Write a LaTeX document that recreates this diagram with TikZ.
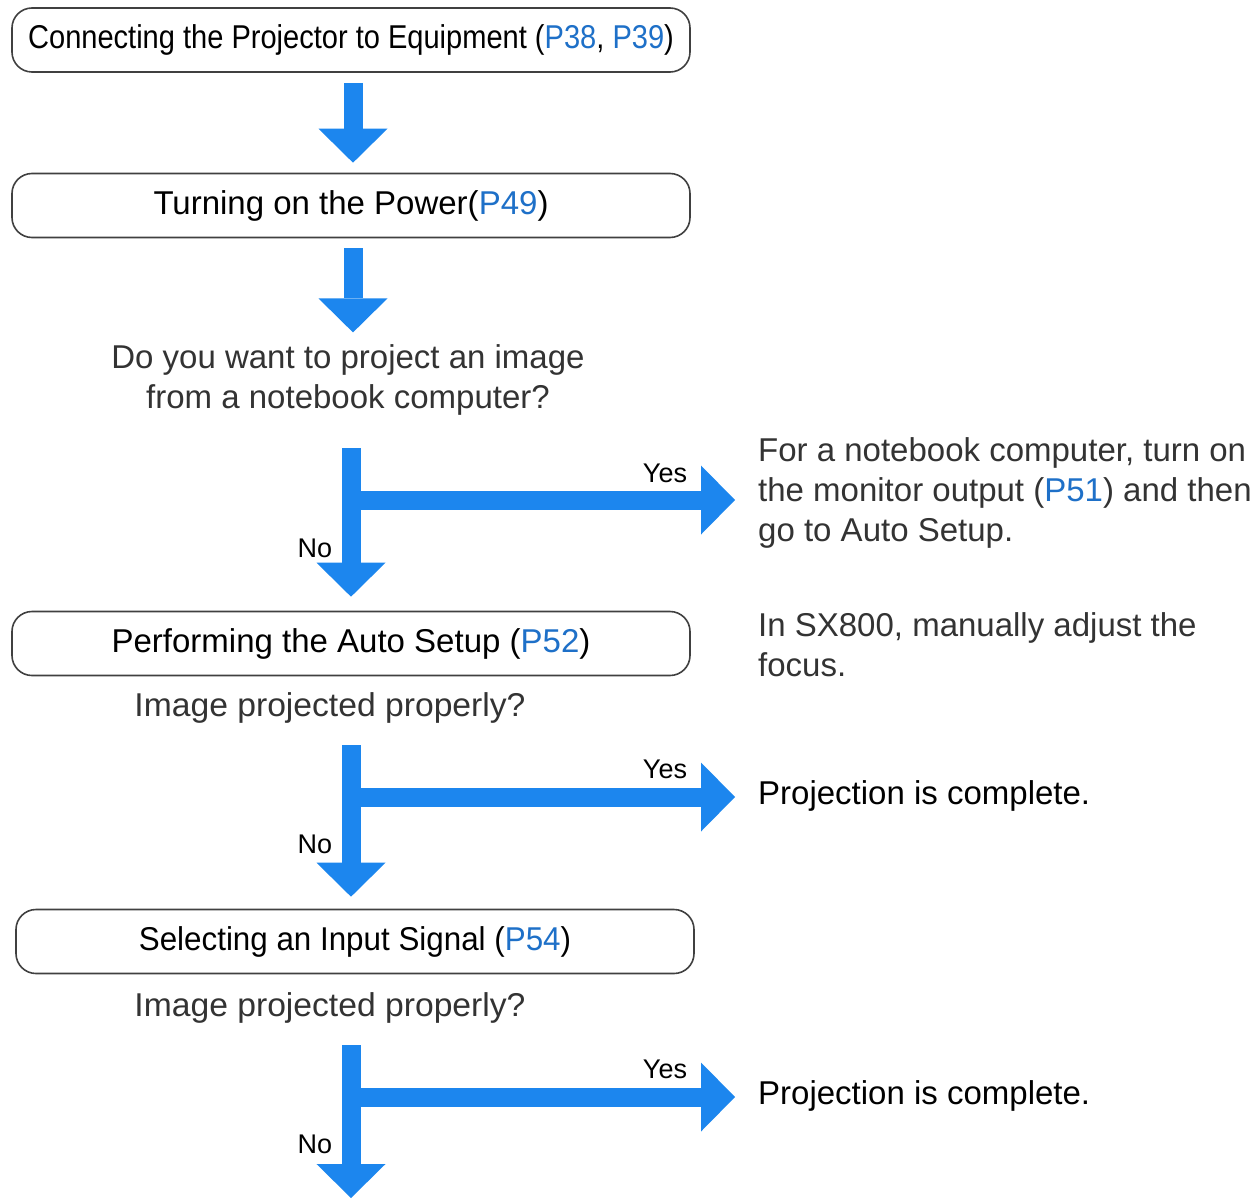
\documentclass[tikz,border=0pt]{standalone}
\usepackage{fontspec}
\setmainfont{Liberation Sans}
\usetikzlibrary{arrows.meta,calc}
\definecolor{flowblue}{RGB}{28,134,238}
\definecolor{linkblue}{RGB}{30,112,200}
\newcommand{\pref}[1]{\textcolor{linkblue}{#1}}
\begin{document}
\begin{tikzpicture}[x=1pt,y=-1pt,
  stepbox/.style={draw=black!75, line width=1.6pt, rounded corners=20pt, minimum width=678pt, minimum height=64pt, inner sep=0pt, font=\fontsize{33}{40}\selectfont},
  plain/.style={inner sep=0pt, font=\fontsize{33}{40}\selectfont, text=black!80},
  lbl/.style={inner sep=0pt, font=\fontsize{27}{32}\selectfont},
  flow/.style={draw=flowblue, line width=19pt, -{Triangle[length=34pt,width=69pt,line width=0pt]}}
]
\useasboundingbox[fill=white] (0,0) rectangle (1257,1201);

\node[stepbox] (b1) at (351,40) {\raisebox{-2pt}{\scalebox{0.88}[1]{Connecting the Projector to Equipment (\pref{P38}, \pref{P39})}}};
\node[stepbox] (b2) at (351,205.5) {\raisebox{-2pt}{Turning on the Power(\pref{P49})}};
\node[plain, align=center] (q1) at (348,380) {Do you want to project an image\\ from a notebook computer?};
\node[plain, align=left, anchor=west] (r1) at (758,493) {For a notebook computer, turn on\\the monitor output (\pref{P51}) and then\\go to Auto Setup.};
\node[plain, align=left, anchor=west] (r2) at (758,645) {In SX800, manually adjust the\\focus.};
\node[stepbox] (b3) at (351,643.5) {\raisebox{-2pt}{Performing the Auto Setup (\pref{P52})}};
\node[plain] (q2) at (330,708) {\scalebox{1.02}[1]{Image projected properly?}};
\node[plain, text=black, anchor=west] (r3) at (758,796) {Projection is complete.};
\node[stepbox] (b4) at (355,941.5) {\raisebox{-2pt}{\scalebox{0.95}[1]{Selecting an Input Signal (\pref{P54})}}};
\node[plain] (q3) at (330,1008) {\scalebox{1.02}[1]{Image projected properly?}};
\node[plain, text=black, anchor=west] (r4) at (758,1096) {Projection is complete.};

% straight arrows
\draw[flow] ($(b1.south)+(2,10)$) -- ($(b2.north)+(2,-10)$);
\draw[flow] ($(b2.south)+(2,10)$) -- ($(q1.north -| b2.south)+(2,-12)$);

% branch 1
\coordinate (j1) at (351,448);
\coordinate (h1) at (351,500);
\draw[flow] (j1) -- ($(b3.north)+(0,-14)$);
\draw[flow] (h1) -- ($(h1 -| r1.west)+(-23,0)$);
\node[lbl] (y1) at (665,473) {Yes};
\node[lbl] (n1) at (315,548) {No};

% branch 2
\coordinate (j2) at (351,745);
\coordinate (h2) at (351,797);
\draw[flow] (j2) -- ($(b4.north -| j2)+(0,-12)$);
\draw[flow] (h2) -- ($(h2 -| r3.west)+(-23,0)$);
\node[lbl] (y2) at (665,769) {Yes};
\node[lbl] (n2) at (315,844) {No};

% branch 3
\coordinate (j3) at (351,1045);
\coordinate (h3) at (351,1097);
\coordinate (e3) at (351,1198);
\draw[flow] (j3) -- (e3);
\draw[flow] (h3) -- ($(h3 -| r4.west)+(-23,0)$);
\node[lbl] (y3) at (665,1069) {Yes};
\node[lbl] (n3) at (315,1144) {No};
\end{tikzpicture}
\end{document}
